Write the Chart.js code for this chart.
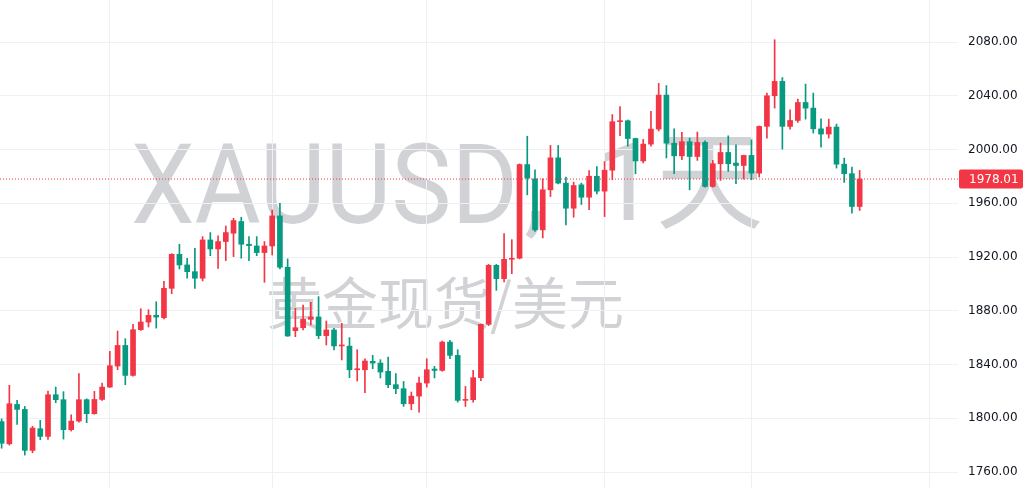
<!DOCTYPE html>
<html lang="zh">
<head>
    <meta charset="UTF-8">
    <title>XAUUSD, 1天</title>
    <script src="https://cdn.jsdelivr.net/npm/chart.js"></script>
    <style>
        html, body { margin: 0; padding: 0; background: #fff; }
        #wrap { position: relative; width: 1024px; height: 488px; overflow: hidden; }
        .wm { position: absolute; color: #d1d2d6; white-space: nowrap; line-height: 1; }
        #wm1a { left: 131px; top: 129px; font-size: 112px; font-family: Roboto, sans-serif; transform: scaleX(0.905); transform-origin: 0 0; }
        #wm1c { left: 524px; top: 129px; font-size: 112px; font-family: Roboto, sans-serif; }
        #wm1b { left: 595px; top: 129px; font-size: 108px; font-family: Roboto, "Noto Sans CJK SC", sans-serif; }
        #wm2 { left: 445px; top: 272px; transform: translateX(-50%); font-size: 56px; font-family: "Noto Sans CJK SC", sans-serif; }
        #chart { position: absolute; left: 0; top: 0; }
    </style>
</head>
<body>
<div id="wrap">
    <div class="wm" id="wm1a">XAUUSD</div>
    <div class="wm" id="wm1c">,</div>
    <div class="wm" id="wm1b">1天</div>
    <div class="wm" id="wm2">黄金现货/美元</div>
    <canvas id="chart" width="1024" height="488"></canvas>
</div>

<script>
    // daily candles, oldest first
    const opens = [
        1797.5, 1781.0, 1810.3, 1806.6, 1776.1, 1792.2, 1786.5, 1817.5, 1813.8, 1791.5,
        1797.9, 1813.8, 1803.4, 1814.0, 1823.2, 1838.9, 1854.2, 1831.9, 1865.9, 1871.6,
        1876.6, 1874.8, 1896.7, 1922.0, 1914.1, 1909.1, 1904.2, 1932.7, 1926.0, 1931.5,
        1937.7, 1946.4, 1929.5, 1928.2, 1923.3, 1928.2, 1950.6, 1912.4, 1865.2, 1867.4,
        1873.6, 1875.4, 1861.5, 1865.7, 1853.8, 1853.7, 1836.1, 1836.1, 1842.4, 1841.1,
        1834.9, 1825.0, 1822.0, 1810.8, 1816.5, 1826.2, 1836.6, 1835.6, 1856.7, 1846.8,
        1813.3, 1813.8, 1830.2, 1869.9, 1913.8, 1903.9, 1918.3, 1919.1, 1988.8, 1978.2,
        1940.2, 1970.0, 1993.8, 1975.0, 1956.3, 1973.7, 1964.5, 1980.1, 1969.0, 1984.6,
        2020.7, 2021.4, 2008.2, 1991.5, 2004.0, 2015.2, 2040.5, 2004.7, 1995.3, 2005.8,
        1994.8, 2005.3, 1972.5, 1989.4, 1997.8, 1989.9, 1988.1, 1995.6, 1982.4, 2017.2,
        2040.0, 2050.7, 2017.2, 2021.6, 2035.0, 2030.8, 2015.4, 2011.5, 2016.7, 1989.1,
        1982.0, 1957.6
    ];
    const highs = [
        1799.5, 1824.5, 1813.3, 1808.8, 1794.0, 1798.4, 1820.2, 1823.2, 1819.8, 1802.6,
        1833.2, 1814.5, 1820.0, 1826.2, 1849.8, 1864.9, 1859.2, 1869.9, 1881.5, 1880.8,
        1886.7, 1901.9, 1922.5, 1929.5, 1919.1, 1926.5, 1935.2, 1938.2, 1935.7, 1943.1,
        1948.8, 1949.6, 1935.2, 1935.2, 1931.5, 1955.0, 1960.0, 1918.6, 1881.8, 1884.3,
        1886.3, 1890.5, 1872.4, 1867.0, 1870.7, 1860.0, 1851.0, 1844.3, 1846.8, 1843.6,
        1845.6, 1833.2, 1827.4, 1819.5, 1830.7, 1844.3, 1838.6, 1857.5, 1858.0, 1851.0,
        1823.7, 1835.6, 1870.0, 1914.5, 1914.5, 1937.4, 1932.9, 1989.3, 2009.9, 1984.9,
        1978.2, 2003.0, 2003.0, 1979.4, 1975.7, 1975.0, 1984.4, 1987.3, 1991.0, 2026.0,
        2032.0, 2022.0, 2008.5, 2007.5, 2028.5, 2049.2, 2047.6, 2015.4, 2012.7, 2008.5,
        2013.0, 2006.5, 1991.9, 2004.8, 2010.2, 2003.5, 1995.8, 2007.2, 2017.5, 2042.0,
        2081.7, 2053.6, 2029.6, 2037.5, 2048.7, 2042.0, 2022.9, 2022.6, 2018.9, 1993.6,
        1986.9, 1984.4
    ];
    const lows = [
        1777.7, 1780.0, 1795.4, 1772.6, 1774.3, 1784.0, 1784.3, 1811.6, 1784.5, 1790.5,
        1797.0, 1796.7, 1803.0, 1813.3, 1823.0, 1836.1, 1825.0, 1831.4, 1865.4, 1867.9,
        1867.1, 1874.0, 1892.7, 1911.1, 1904.2, 1896.7, 1902.2, 1921.0, 1911.6, 1917.3,
        1920.3, 1919.1, 1917.3, 1921.0, 1901.2, 1921.5, 1911.1, 1861.0, 1860.7, 1865.7,
        1869.4, 1859.3, 1854.5, 1850.8, 1843.4, 1830.2, 1827.7, 1819.0, 1836.9, 1830.0,
        1822.7, 1818.3, 1808.8, 1806.4, 1804.6, 1823.2, 1830.0, 1835.0, 1844.3, 1812.0,
        1808.8, 1812.0, 1828.0, 1869.0, 1895.2, 1901.4, 1907.6, 1918.6, 1966.3, 1939.0,
        1934.2, 1965.0, 1974.4, 1943.9, 1949.6, 1959.1, 1955.3, 1967.0, 1950.1, 1977.5,
        2010.3, 2002.5, 1981.9, 1990.0, 2002.5, 2013.8, 1993.7, 1982.0, 1992.4, 1970.0,
        1991.9, 1972.0, 1972.0, 1977.0, 1983.7, 1974.5, 1978.0, 1977.5, 1979.5, 2008.5,
        2030.8, 2000.3, 2015.2, 2020.1, 2022.6, 2012.2, 2001.8, 2008.5, 1986.2, 1975.5,
        1952.7, 1954.6
    ];
    const closes = [
        1781.4, 1810.8, 1806.6, 1776.1, 1792.7, 1786.5, 1817.5, 1813.8, 1791.5, 1797.9,
        1813.8, 1803.4, 1814.0, 1823.2, 1839.1, 1854.2, 1831.9, 1865.9, 1871.6, 1876.6,
        1875.3, 1896.7, 1922.0, 1914.1, 1909.1, 1904.2, 1932.7, 1926.0, 1931.5, 1938.2,
        1947.1, 1929.5, 1928.5, 1923.3, 1928.2, 1950.6, 1912.4, 1861.2, 1867.4, 1873.6,
        1875.4, 1861.5, 1865.7, 1853.8, 1854.3, 1836.1, 1836.6, 1842.6, 1841.1, 1834.4,
        1825.0, 1822.0, 1810.8, 1816.5, 1826.2, 1836.1, 1835.6, 1856.7, 1846.8, 1813.3,
        1814.0, 1830.2, 1869.9, 1913.8, 1903.9, 1918.3, 1919.0, 1988.8, 1978.7, 1940.2,
        1970.0, 1993.8, 1975.0, 1956.3, 1973.2, 1964.5, 1980.1, 1969.0, 1984.6, 2020.7,
        2021.4, 2008.2, 1991.5, 2004.0, 2015.2, 2040.5, 2004.7, 1995.3, 2005.8, 1994.8,
        2005.3, 1972.5, 1989.4, 1997.8, 1989.4, 1988.1, 1995.6, 1982.4, 2017.2, 2040.0,
        2050.7, 2017.2, 2021.6, 2035.0, 2030.8, 2015.4, 2011.5, 2016.7, 1989.1, 1982.0,
        1957.6, 1978.01
    ];

    const yTicks = [1760, 1800, 1840, 1880, 1920, 1960, 2000, 2040, 2080];
    const monthStarts = [14, 35, 55, 78, 97, 120]; // bar index of first day of each month
    const lastPrice = closes[closes.length - 1];

    const upColor = '#f23645';   // red = up
    const downColor = '#089981'; // green = down

    const bodies = opens.map((o, i) => ({x: i, y: [o, closes[i]]}));
    const wicks = lows.map((l, i) => ({x: i, y: [l, highs[i]]}));
    const candleColors = opens.map((o, i) => closes[i] >= o ? upColor : downColor);

    const xMin = -0.21, xMax = 123.72;

    const priceTag = {
        id: 'priceTag',
        afterDraw(chart) {
            const ctx = chart.ctx;
            const area = chart.chartArea;
            const y = chart.scales.y.getPixelForValue(lastPrice);
            ctx.save();
            ctx.fillStyle = upColor;
            ctx.beginPath();
            ctx.roundRect(area.right + 1, y - 9.5, 64, 19, 2);
            ctx.fill();
            ctx.fillStyle = '#ffffff';
            ctx.font = '12px "DejaVu Sans"';
            ctx.textBaseline = 'middle';
            ctx.fillText(lastPrice.toFixed(2), area.right + 11, y + 0.5);
            ctx.restore();
        }
    };

    new Chart(document.getElementById('chart'), {
        type: 'bar',
        data: {
            datasets: [
                {
                    type: 'line',
                    data: [{x: xMin, y: lastPrice}, {x: xMax, y: lastPrice}],
                    borderColor: upColor,
                    borderWidth: 1,
                    borderDash: [1, 2],
                    pointRadius: 0,
                    order: 0
                },
                {
                    data: bodies,
                    backgroundColor: candleColors,
                    barThickness: 5,
                    minBarLength: 1,
                    grouped: false,
                    order: 1
                },
                {
                    data: wicks,
                    backgroundColor: candleColors,
                    barThickness: 1,
                    grouped: false,
                    order: 2
                }
            ]
        },
        options: {
            responsive: false,
            animation: false,
            layout: {padding: 0},
            plugins: {legend: {display: false}, tooltip: {enabled: false}},
            scales: {
                x: {
                    type: 'linear',
                    min: xMin,
                    max: xMax,
                    offset: false,
                    grid: {offset: false, color: '#eef0f3', drawTicks: false},
                    border: {display: false},
                    ticks: {display: false},
                    afterBuildTicks: s => { s.ticks = monthStarts.map(v => ({value: v})); },
                    afterFit: s => { s.height = 0; s.paddingLeft = 0; s.paddingRight = 0; }
                },
                y: {
                    position: 'right',
                    min: 1748.1,
                    max: 2111.26,
                    grid: {color: '#eef0f3', drawTicks: false},
                    border: {display: false},
                    ticks: {
                        color: '#131722',
                        font: {family: 'DejaVu Sans', size: 12},
                        padding: 10,
                        callback: v => v.toFixed(2)
                    },
                    afterBuildTicks: s => { s.ticks = yTicks.map(v => ({value: v})); },
                    afterFit: s => { s.width = 66; s.paddingTop = 0; s.paddingBottom = 0; }
                }
            }
        },
        plugins: [priceTag]
    });
</script>
</body>
</html>
